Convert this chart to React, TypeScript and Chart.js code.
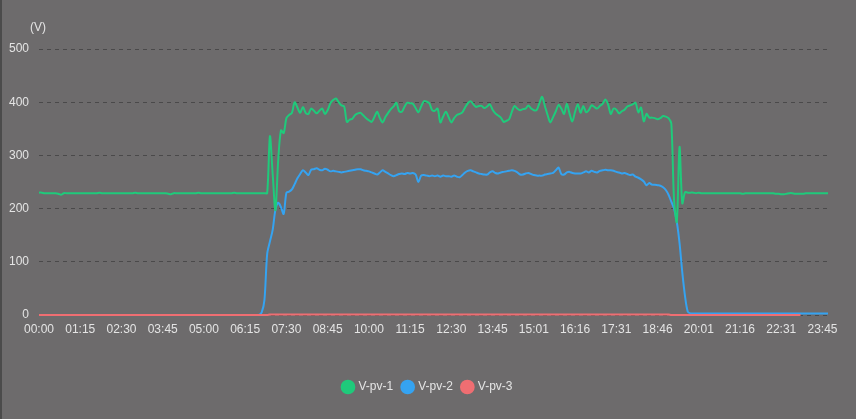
import { useEffect, useRef } from "react"
import { Chart, registerables } from "chart.js"

Chart.register(...registerables)

// 5-minute samples, 00:00 .. 23:55 (the logger drifts by one minute mid-afternoon)
const vPv1 = [
  230, 230, 229, 229, 229, 229, 229, 228, 226, 229,
  229, 229, 229, 229, 229, 229, 229, 229, 229, 229,
  229, 229, 230, 229, 229, 229, 229, 229, 229, 229,
  229, 229, 229, 229, 229, 230, 229, 229, 229, 229,
  229, 229, 229, 229, 229, 229, 229, 228, 227, 229,
  229, 229, 229, 229, 229, 229, 229, 229, 230, 229,
  229, 229, 229, 229, 229, 229, 229, 229, 229, 229,
  229, 230, 229, 229, 229, 229, 229, 229, 229, 229,
  229, 229, 229, 229,
  336, 265, 197, 290, 347, 342, 370, 376, 380, 400,
  390, 380, 391, 380, 378, 388, 384, 379, 384, 388,
  378, 385, 398, 404, 407, 400, 394, 392, 363, 367,
  369, 376, 379, 380, 375, 370, 366, 363, 372, 382,
  370, 362, 372, 380, 387, 392, 399, 383, 382, 392,
  399, 398, 397, 389, 381, 392, 402, 401, 398, 385,
  384, 388, 362, 373, 382, 372, 362, 370, 376, 378,
  381, 390, 398, 402, 396, 391, 393, 393, 389, 392,
  396, 386, 379, 375, 371, 363, 365, 368, 382, 393,
  388, 385, 387, 388, 394, 388, 385, 385, 398, 410,
  393, 376, 362, 372, 383, 395, 388, 378, 397, 378,
  364, 382, 396, 380, 393, 381, 385, 394, 391, 388,
  393, 397, 405, 396, 378, 388, 386, 379, 383, 386,
  392, 394, 396, 399, 381, 390, 364, 378, 371, 371,
  370, 368, 370, 374, 373, 370, 360, 216, 175, 316,
  210, 231, 230, 230, 230, 229, 230, 229, 229, 229,
  229, 229, 229, 229, 229, 229, 229, 229, 229, 229,
  229, 229, 228, 229, 229, 229, 229, 229, 229, 229,
  229, 229, 229, 229, 228, 228, 227, 227, 228, 229,
  229, 228, 228, 228, 228, 229, 229, 229, 229, 229,
  229, 229, 229, 229,
]

const vPv2 = [
  null, null, null, null, null, null, null, null, null, null,
  null, null, null, null, null, null, null, null, null, null,
  null, null, null, null, null, null, null, null, null, null,
  null, null, null, null, null, null, null, null, null, null,
  null, null, null, null, null, null, null, null, null, null,
  null, null, null, null, null, null, null, null, null, null,
  null, null, null, null, null, null, null, null, null, null,
  null, null, null, null, null, null, null, null, null,
  0, 0, 5, 28, 115,
  138, 160, 198, 211, 203, 190, 230, 232, 236, 246,
  257, 265, 272, 268, 263, 273, 274, 276, 273, 272,
  275, 273, 270, 271, 270, 269, 268, 269, 270, 271,
  272, 273, 274, 274, 272, 271, 270, 268, 266, 264,
  268, 272, 269, 266, 263, 261, 263, 265, 266, 265,
  267, 266, 267, 264, 250, 262, 263, 262, 261, 262,
  261, 262, 260, 262, 261, 261, 260, 262, 260, 259,
  263, 268, 271, 272, 270, 268, 266, 265, 264, 264,
  268, 270, 267, 266, 268, 269, 270, 271, 272, 271,
  268, 264, 264, 266, 267, 265, 263, 262, 262, 262,
  264, 265, 266, 267, 272, 277, 265, 264, 268, 269,
  267, 266, 266, 266, 268, 270, 268, 271, 269, 268,
  271, 272, 273, 272, 272, 271, 269, 268, 266, 267,
  265, 263, 264, 260, 258, 255, 251, 244, 248, 245,
  245, 244, 243, 240, 235, 226, 213, 200, 175, 135,
  80, 35, 6, 3, 3, 3, 3, 3, 3, 3,
  3, 3, 3, 3, 3, 3, 3, 3, 3, 3,
  3, 3, 3, 3, 3, 3, 3, 3, 3, 3,
  3, 3, 3, 3, 3, 3, 3, 3, 3, 3,
  3, 3, 3, 3, 3, 3, 3, 3, 3, 3,
  3, 3, 3, 3,
]

const vPv3 = [
  0, 0, 0, 0, 0, 0, 0, 0, 0, 0,
  0, 0, 0, 0, 0, 0, 0, 0, 0, 0,
  0, 0, 0, 0, 0, 0, 0, 0, 0, 0,
  0, 0, 0, 0, 0, 0, 0, 0, 0, 0,
  0, 0, 0, 0, 0, 0, 0, 0, 0, 0,
  0, 0, 0, 0, 0, 0, 0, 0, 0, 0,
  0, 0, 0, 0, 0, 0, 0, 0, 0, 0,
  0, 0, 0, 0, 0, 0, 0, 0, 0, 0,
  0, 0, 0, 0, 1, 1, 1, 1, 1, 1,
  1, 1, 1, 1, 1, 1, 1, 1, 1, 1,
  1, 1, 1, 1, 1, 1, 1, 1, 1, 1,
  1, 1, 1, 1, 1, 1, 1, 1, 1, 1,
  1, 1, 1, 1, 1, 1, 1, 1, 1, 1,
  1, 1, 1, 1, 1, 1, 1, 1, 1, 1,
  1, 1, 1, 1, 1, 1, 1, 1, 1, 1,
  1, 1, 1, 1, 1, 1, 1, 1, 1, 1,
  1, 1, 1, 1, 1, 1, 1, 1, 1, 1,
  1, 1, 1, 1, 1, 1, 1, 1, 1, 1,
  1, 1, 1, 1, 1, 1, 1, 1, 1, 1,
  1, 1, 1, 1, 1, 1, 1, 1, 1, 1,
  1, 1, 1, 1, 1, 1, 1, 1, 1, 1,
  1, 1, 1, 1, 1, 1, 1, 1, 1, 1,
  1, 1, 1, 1, 1, 1, 1, 1, 1, 1,
  0, 0, 0, 0, 0, 0, 0, 0, 0, 0,
  0, 0, 0, 0, 0, 0, 0, 0, 0, 0,
  0, 0, 0, 0, 0, 0, 0, 0, 0, 0,
  0, 0, 0, 0, 0, 0, 0, 0, 0, 0,
  0, 0, 0, 0, 0, 0, 0, 0,
]

const seriesNames = ["V-pv-1", "V-pv-2", "V-pv-3"]
const seriesColors = ["#1fca7b", "#35a3f1", "#ef6e72"]
const seriesOrder = [1, 2, 0] // V-pv-3 is painted on top of the others
const yTicks = { min: 0, max: 500, step: 100 }
const unit = "(V)"
const LABEL_EVERY = 15

const pad = (n: number) => String(n).padStart(2, "0")
const times = vPv1.map((_, i) => {
  const m = i * 5 + (i >= 170 && i < 280 ? 1 : 0)
  return `${pad(Math.floor(m / 60))}:${pad(m % 60)}`
})

const FONT = "'Liberation Sans', Arial, Helvetica, sans-serif"
const TEXT = "#e4e4e4"

const unitLabel = {
  id: "unitLabel",
  afterDraw(chart: any) {
    const { ctx, chartArea } = chart
    ctx.save()
    ctx.fillStyle = TEXT
    ctx.font = `12px ${FONT}`
    ctx.textAlign = "left"
    ctx.textBaseline = "middle"
    ctx.fillText(unit, chartArea.left - 9, chartArea.top - 21)
    ctx.restore()
  },
}

export default function App() {
  const ref = useRef<HTMLCanvasElement>(null)

  useEffect(() => {
    if (!ref.current) return
    document.body.style.margin = "0"

    const chart = new Chart(ref.current, {
      type: "line",
      data: {
        labels: times,
        datasets: [vPv1, vPv2, vPv3].map((d, i) => ({
          label: seriesNames[i],
          data: d,
          order: seriesOrder[i],
          borderColor: seriesColors[i],
          backgroundColor: seriesColors[i],
          borderWidth: 2,
          pointRadius: 0,
          pointStyle: "circle",
          tension: 0.3,
          clip: false as any,
        })),
      },
      options: {
        animation: false,
        responsive: true,
        maintainAspectRatio: false,
        // wide left padding keeps the legend centred like the original
        layout: { padding: { top: 49, left: 26, right: 28, bottom: 16 } },
        plugins: {
          tooltip: { enabled: false },
          legend: {
            position: "bottom",
            labels: {
              usePointStyle: true,
              boxWidth: 9,
              boxHeight: 9,
              padding: 10,
              color: TEXT,
              font: { family: FONT, size: 12 },
              sort: (a: any, b: any) => a.datasetIndex - b.datasetIndex,
            },
          },
        },
        scales: {
          x: {
            grid: { display: false, drawTicks: false },
            border: { display: false },
            afterFit: (scale: any) => { scale.height = 56 },
            ticks: {
              autoSkip: false,
              maxRotation: 0,
              padding: 7,
              color: TEXT,
              font: { family: FONT, size: 12 },
              callback: function (this: any, value: any, index: number) {
                return index % LABEL_EVERY === 0 ? this.getLabelForValue(value) : null
              },
            },
          },
          y: {
            min: yTicks.min,
            max: yTicks.max,
            afterFit: (scale: any) => {
              scale.width = 11
              // labels stick out past the narrow axis box, so don't clip them
              scale._computeLabelArea = () => undefined
            },
            border: { display: false, dash: [4, 4] },
            grid: { color: "#4a494a", drawTicks: false, lineWidth: 1 },
            ticks: {
              stepSize: yTicks.step,
              padding: 10,
              color: TEXT,
              font: { family: FONT, size: 12 },
            },
          },
        },
      },
      plugins: [unitLabel],
    })

    return () => { chart.destroy() }
  }, [])

  return (
    <div
      style={{
        width: 856,
        height: 419,
        boxSizing: "border-box",
        background: "#6d6b6c",
        borderLeft: "2px solid #4b4b4b",
      }}
    >
      <canvas ref={ref} />
    </div>
  )
}
